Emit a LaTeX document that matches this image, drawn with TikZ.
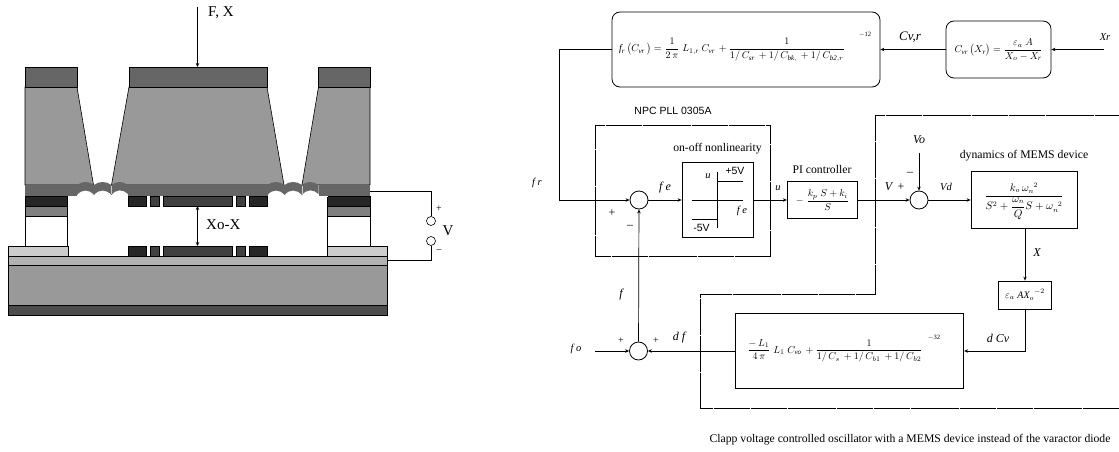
\documentclass[tikz,border=0pt]{standalone}
\usepackage{amsmath}
\usepackage{fontspec}
\setmainfont{Liberation Serif}
\newfontfamily\labelsans{Liberation Sans}
\usetikzlibrary{arrows.meta}

\definecolor{capgray}{gray}{0.40}
\definecolor{bodygray}{gray}{0.60}
\definecolor{padgray}{gray}{0.80}
\definecolor{oxidegray}{gray}{0.70}
\definecolor{backgray}{gray}{0.30}
\definecolor{padblack}{gray}{0.15}
\definecolor{midgray}{gray}{0.25}
\definecolor{layergray}{gray}{0.50}

\newcommand*{\vr}[1]{\mathit{#1}}

\begin{document}
\begin{tikzpicture}
[
	x=1pt,y=-1pt,
	layer/.style={draw=black,line width=0.6pt},
	block/.style={draw,line width=0.8pt,inner sep=0pt},
	roundblock/.style={block,rounded corners=8pt},
	sumpt/.style={circle,draw,inner sep=0pt,minimum size=18pt,line width=0.8pt},
	termpt/.style={circle,draw,inner sep=0pt,minimum size=9pt,line width=0.6pt},
	ital/.style={font=\fontsize{10.5}{12}\selectfont\itshape,inner sep=0pt},
	italbig/.style={font=\fontsize{12}{14}\selectfont\itshape,inner sep=0pt},
	plain/.style={font=\fontsize{11.7}{13}\selectfont,inner sep=0pt},
	sign/.style={font=\fontsize{10}{12}\selectfont,inner sep=0pt},
	signbig/.style={font=\fontsize{12}{14}\selectfont,inner sep=0pt},
	sanslbl/.style={font=\fontsize{10.5}{13}\selectfont\labelsans,inner sep=0pt},
	big/.style={font=\fontsize{15}{17}\selectfont,inner sep=0pt},
	formula/.style={font=\fontsize{10}{12}\selectfont,inner sep=0pt},
	exponent/.style={font=\fontsize{6.5}{8}\selectfont,inner sep=0pt},
	flow/.style={-{Stealth[length=4pt,width=3.5pt]},line width=0.7pt},
	wire/.style={line width=0.7pt},
	border/.style={draw,line width=0.8pt,dash pattern=on 12pt off 0.3pt}
]
	\useasboundingbox (0,0) rectangle (1119,452);

	% substrate
	\draw[layer,fill=backgray] (8,305) rectangle (387,315);
	\draw[layer,fill=bodygray] (8,265.5) rectangle (387,305);
	\draw[layer,fill=oxidegray] (8,256) rectangle (387,265.5);
	\draw[layer,fill=padgray] (8,246) rectangle (68,256);
	\draw[layer,fill=padgray] (327.5,246) rectangle (387,256);

	% pillars
	\foreach \x in {25,327.5} {
		\draw[layer,fill=white] (\x,216) rectangle ++(42.5,30);
		\draw[layer,fill=layergray] (\x,206) rectangle ++(42.5,10);
		\draw[layer,fill=padblack] (\x,196) rectangle ++(42.5,10);
	}

	% mass and frame
	\draw[layer,fill=bodygray] (25,87) -- (77,87) -- (93.5,185) -- (25,185) -- cycle;
	\draw[layer,fill=bodygray] (129,87) -- (267,87) -- (284,185) -- (111.5,185) -- cycle;
	\draw[layer,fill=bodygray] (318.5,87) -- (370,87) -- (370,185) -- (302,185) -- cycle;
	\draw[layer,fill=capgray] (25,67) rectangle (77,87);
	\draw[layer,fill=capgray] (129,67) rectangle (267,87);
	\draw[layer,fill=capgray] (318.5,67) rectangle (370,87);

	% membrane
	\fill[capgray] (25,185) rectangle (370,196);
	\foreach \s in {0,190.5} {
		\begin{scope}[xshift=\s pt]
			\fill[white] (77,185) rectangle (128,197);
			\fill[capgray] (77,185)
				.. controls (82,181) and (89,181) .. (94,185)
				.. controls (99,181) and (106,181) .. (111.5,185)
				.. controls (116,181) and (123,181) .. (128,185)
				-- (128,194)
				.. controls (123,189) and (116,189) .. (111.5,195)
				.. controls (106,189) and (99,189) .. (94,195)
				.. controls (89,189) and (82,189) .. (77,195)
				-- cycle;
			\draw[line width=0.4pt,padgray] (111.5,186) -- (111.5,194);
		\end{scope}
	}
	\fill[white] (68,196) rectangle (128,197);
	\fill[white] (267,196) rectangle (327.5,197);

	% electrodes
	\foreach \y in {196,246} {
		\draw[layer,fill=padblack] (128,\y) rectangle ++(18,10);
		\draw[layer,fill=midgray] (150,\y) rectangle ++(9,10);
		\draw[layer,fill=midgray] (163.5,\y) rectangle ++(69,10);
		\draw[layer,fill=midgray] (236.5,\y) rectangle ++(9,10);
		\draw[layer,fill=padblack] (249,\y) rectangle ++(18,10);
	}

	% bias
	\node[termpt] (termp) at (431,221) {};
	\node[termpt] (termn) at (431,241) {};
	\coordinate (topout) at (370,191.5);
	\coordinate (botout) at (387,260.5);
	\draw[wire] (topout) -| (termp.north);
	\draw[wire] (botout) -| (termn.south);
	\node[sign] (termplus) at (439,209) {+};
	\node[sign] (termminus) at (439,251) {--};
	\node[big] (termv) at (448,231) {V};

	% force and gap
	\node[big,anchor=west] (forcelbl) at (208,13) {F, X};
	\node[big,anchor=west] (gaplbl) at (206,225) {Xo-X};
	\coordinate (forcetop) at (197.5,7);
	\coordinate (forcebot) at (197.5,67);
	\coordinate (gaptop) at (197.5,206);
	\coordinate (gapbot) at (197.5,246);
	\draw[flow] (forcetop) -- (forcebot);
	\draw[{Stealth[length=4pt,width=3.5pt]}-{Stealth[length=4pt,width=3.5pt]},line width=0.7pt] (gaptop) -- (gapbot);

	% regions
	\draw[border] (595,125) rectangle (770.5,256);
	\draw[border] (1119,115) -- (875,115) -- (875,294) -- (700,294) -- (700,408) -- (1119,408);

	% blocks
	\node[roundblock,minimum width=268pt,minimum height=75pt] (freqbox) at (746,49.5) {};
	\node[roundblock,minimum width=105pt,minimum height=57pt] (capbox) at (998.5,49.5) {};
	\node[block,minimum width=71pt,minimum height=75.5pt] (nlbox) at (717.5,200) {};
	\node[block,minimum width=70.5pt,minimum height=37.5pt] (pibox) at (822.5,200) {};
	\node[block,minimum width=106pt,minimum height=56.5pt] (memsbox) at (1024,200) {};
	\node[block,minimum width=53pt,minimum height=28pt] (gainbox) at (1025,295) {};
	\node[block,minimum width=228.5pt,minimum height=75.5pt] (dfbox) at (849.5,351) {};
	\node[sumpt] (sumr) at (639,200) {};
	\node[sumpt] (sumv) at (919,200) {};
	\node[sumpt] (sumo) at (638.5,351) {};

	% formulas
	\node[formula] (freqeq) at (732,50) {$\vr{f}_{\vr{r}}\,\bigl(C_{\mathit{vr}}\,\bigr)=\dfrac{1}{2\,\pi}\;L_{1,\vr{r}}\;C_{\mathit{vr}}\,+\dfrac{1}{1/\,C_{\mathit{sr}}\,+1/\,C_{\mathit{bk},}\,+1/\,C_{\mathit{b2},r}}$};
	\node[exponent] (freqexp) at (865,35) {$-$12};
	\node[formula] (capeq) at (998.5,50) {$C_{\mathit{vr}}\,\bigl(X_{\vr{r}}\bigr)=\dfrac{\varepsilon_{a}\;A}{X_{o}-X_{\vr{r}}}$};
	\node[formula] (pieq) at (822.5,200) {$-\;\dfrac{k_{p}\;S+k_{i}}{S}$};
	\node[formula,font=\fontsize{10.5}{12}\selectfont] (memseq) at (1024,201) {$\dfrac{k_{o}\,\omega_{n}^{\;\;2}}{S^{2}+\dfrac{\omega_{n}}{Q}S+\omega_{n}^{\;\;2}}$};
	\node[formula] (gaineq) at (1025,295) {$\varepsilon_{a}\;\vr{AX}_{o}^{\;\;-2}$};
	\node[formula] (dfeq) at (835,351) {$\dfrac{-\,L_{1}}{4\,\pi}\;L_{1}\;C_{\mathit{vo}}\,+\dfrac{1}{1/\,C_{s}\,+1/\,C_{b1}\,+1/\,C_{b2}}$};
	\node[exponent] (dfexp) at (934,338) {$-$32};

	% on-off curve
	\coordinate (nlleft) at (691.5,200);
	\coordinate (nlright) at (743,200);
	\coordinate (nltop) at (717.5,172);
	\coordinate (nlbot) at (717.5,228);
	\draw[wire] (nlleft) -- (nlright);
	\draw[wire] (nltop) -- (nlbot);
	\draw[wire] (717.5,181) -- (743,181);
	\draw[wire] (691.5,219.5) -- (717.5,219.5);

	% connectors
	\coordinate (xrin) at (1104,49.5);
	\coordinate (voin) at (919,153);
	\coordinate (foin) at (595,351);
	\coordinate (frcorner) at (559,49.5);
	\draw[flow] (xrin) -- (capbox);
	\draw[flow] (capbox) -- (freqbox);
	\draw[flow] (freqbox.west) -- (frcorner) |- (sumr.west);
	\draw[flow] (sumr) -- (nlbox);
	\draw[flow] (nlbox) -- (pibox);
	\draw[flow] (pibox) -- (sumv);
	\draw[flow] (voin) -- (sumv);
	\draw[flow] (sumv) -- (memsbox);
	\draw[flow] (memsbox.south -| gainbox.north) -- (gainbox.north);
	\draw[flow] (gainbox.south) |- (dfbox.east);
	\draw[flow] (dfbox) -- (sumo);
	\draw[flow] (foin) -- (sumo);
	\draw[flow] (sumo) -- (sumr);

	% labels
	\node[ital] (xrlbl) at (1105,37) {Xr};
	\node[italbig,font=\fontsize{13}{15}\selectfont\itshape] (cvrlbl) at (910,37) {Cv,r};
	\node[ital] (frlbl) at (537,183) {f r};
	\node[italbig] (felbl) at (665,188) {f e};
	\node[ital] (felbltwo) at (742,211) {f e};
	\node[ital] (ulbl) at (708,176) {u};
	\node[ital] (ulbltwo) at (778,188) {u};
	\node[italbig] (vlbl) at (888.5,187) {V};
	\node[signbig] (vplus) at (901,187) {+};
	\node[italbig] (volbl) at (919,140) {Vo};
	\node[signbig] (vminus) at (910,174) {--};
	\node[ital] (vdlbl) at (946,187) {Vd};
	\node[italbig] (xlbl) at (1037,253) {X};
	\node[italbig] (dcvlbl) at (998,338) {d Cv};
	\node[italbig] (dflbl) at (679,338) {d f};
	\node[italbig] (flbl) at (621,295) {f};
	\node[ital] (folbl) at (576,349) {f o};
	\node[sign] (oplusa) at (621,341) {+};
	\node[sign] (oplusb) at (656,341) {+};
	\node[signbig] (rplus) at (612,213) {+};
	\node[signbig] (rminus) at (630,227) {--};
	\node[sanslbl] (ppos) at (735,171) {+5V};
	\node[sanslbl] (pneg) at (701.5,228) {-5V};
	\node[sanslbl] (npclbl) at (673,111) {NPC PLL 0305A};
	\node[plain] (nllbl) at (717.5,149) {on-off nonlinearity};
	\node[plain] (pilbl) at (822,169) {PI controller};
	\node[plain] (memslbl) at (1024,156) {dynamics of MEMS device};
	\node[plain] (capt) at (910,440) {Clapp voltage controlled oscillator with a MEMS device instead of the varactor diode};

\end{tikzpicture}
\end{document}
